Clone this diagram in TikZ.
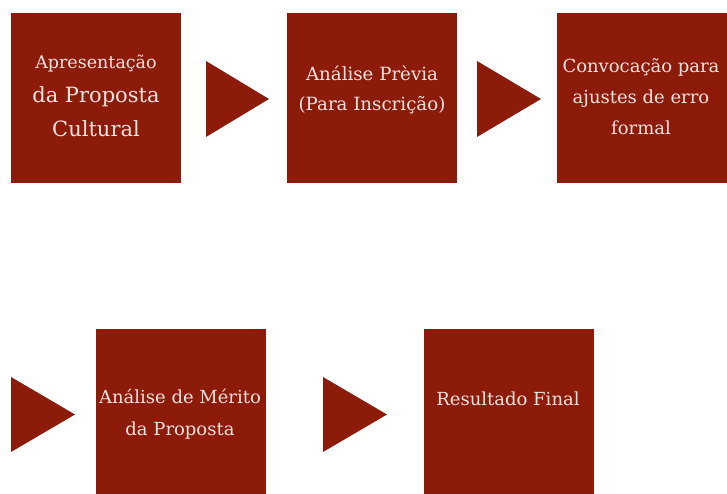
\documentclass[tikz,border=0pt]{standalone}
\usepackage{fontspec}
\setmainfont{DejaVu Serif}
\definecolor{boxred}{HTML}{8C1B0A}
\definecolor{boxtext}{HTML}{F3E3DF}
\tikzset{
  x=1pt, y=-1pt,
  stepbox/.style={fill=boxred, draw=none, minimum width=170pt, minimum height=170pt, inner sep=0pt, anchor=north west},
  steptext/.style={text=boxtext, align=center, inner sep=0pt},
  pointer/.style={fill=boxred, draw=none}
}
\begin{document}
\begin{tikzpicture}
\useasboundingbox (0,0) rectangle (727,494);
% boxes
\node[stepbox] (b1) at (11,13) {};
\node[stepbox] (b2) at (287,13) {};
\node[stepbox] (b3) at (557,13) {};
\node[stepbox] (b4) at (96,329) {};
\node[stepbox] (b5) at (424,329) {};
% texts
\node[steptext, font=\fontsize{17.5}{34}\selectfont] (t1) at (96,96)
  {Apresentação\\{\fontsize{21}{34}\selectfont da Proposta}\\{\fontsize{21}{34}\selectfont Cultural}};
\node[steptext, font=\fontsize{18.2}{30}\selectfont] (t2) at (372,90)
  {Análise Prèvia\\(Para Inscrição)};
\node[steptext, font=\fontsize{18}{31}\selectfont] (t3) at (641,97)
  {Convocação para\\ajustes de erro\\formal};
\node[steptext, font=\fontsize{18}{32}\selectfont] (t4) at (180,414)
  {Análise de Mérito\\da Proposta};
\node[steptext, font=\fontsize{18}{32}\selectfont] (t5) at (508,399)
  {Resultado Final};
% pointers
\coordinate (p1) at (206,61);
\fill[pointer] (p1) -- ++(0,76) -- ++(63,-38) -- cycle;
\coordinate (p2) at (477,61);
\fill[pointer] (p2) -- ++(0,76) -- ++(64,-38) -- cycle;
\coordinate (p3) at (11,377);
\fill[pointer] (p3) -- ++(0,75) -- ++(64,-37.5) -- cycle;
\coordinate (p4) at (323,377);
\fill[pointer] (p4) -- ++(0,75) -- ++(64,-37.5) -- cycle;
\end{tikzpicture}
\end{document}
